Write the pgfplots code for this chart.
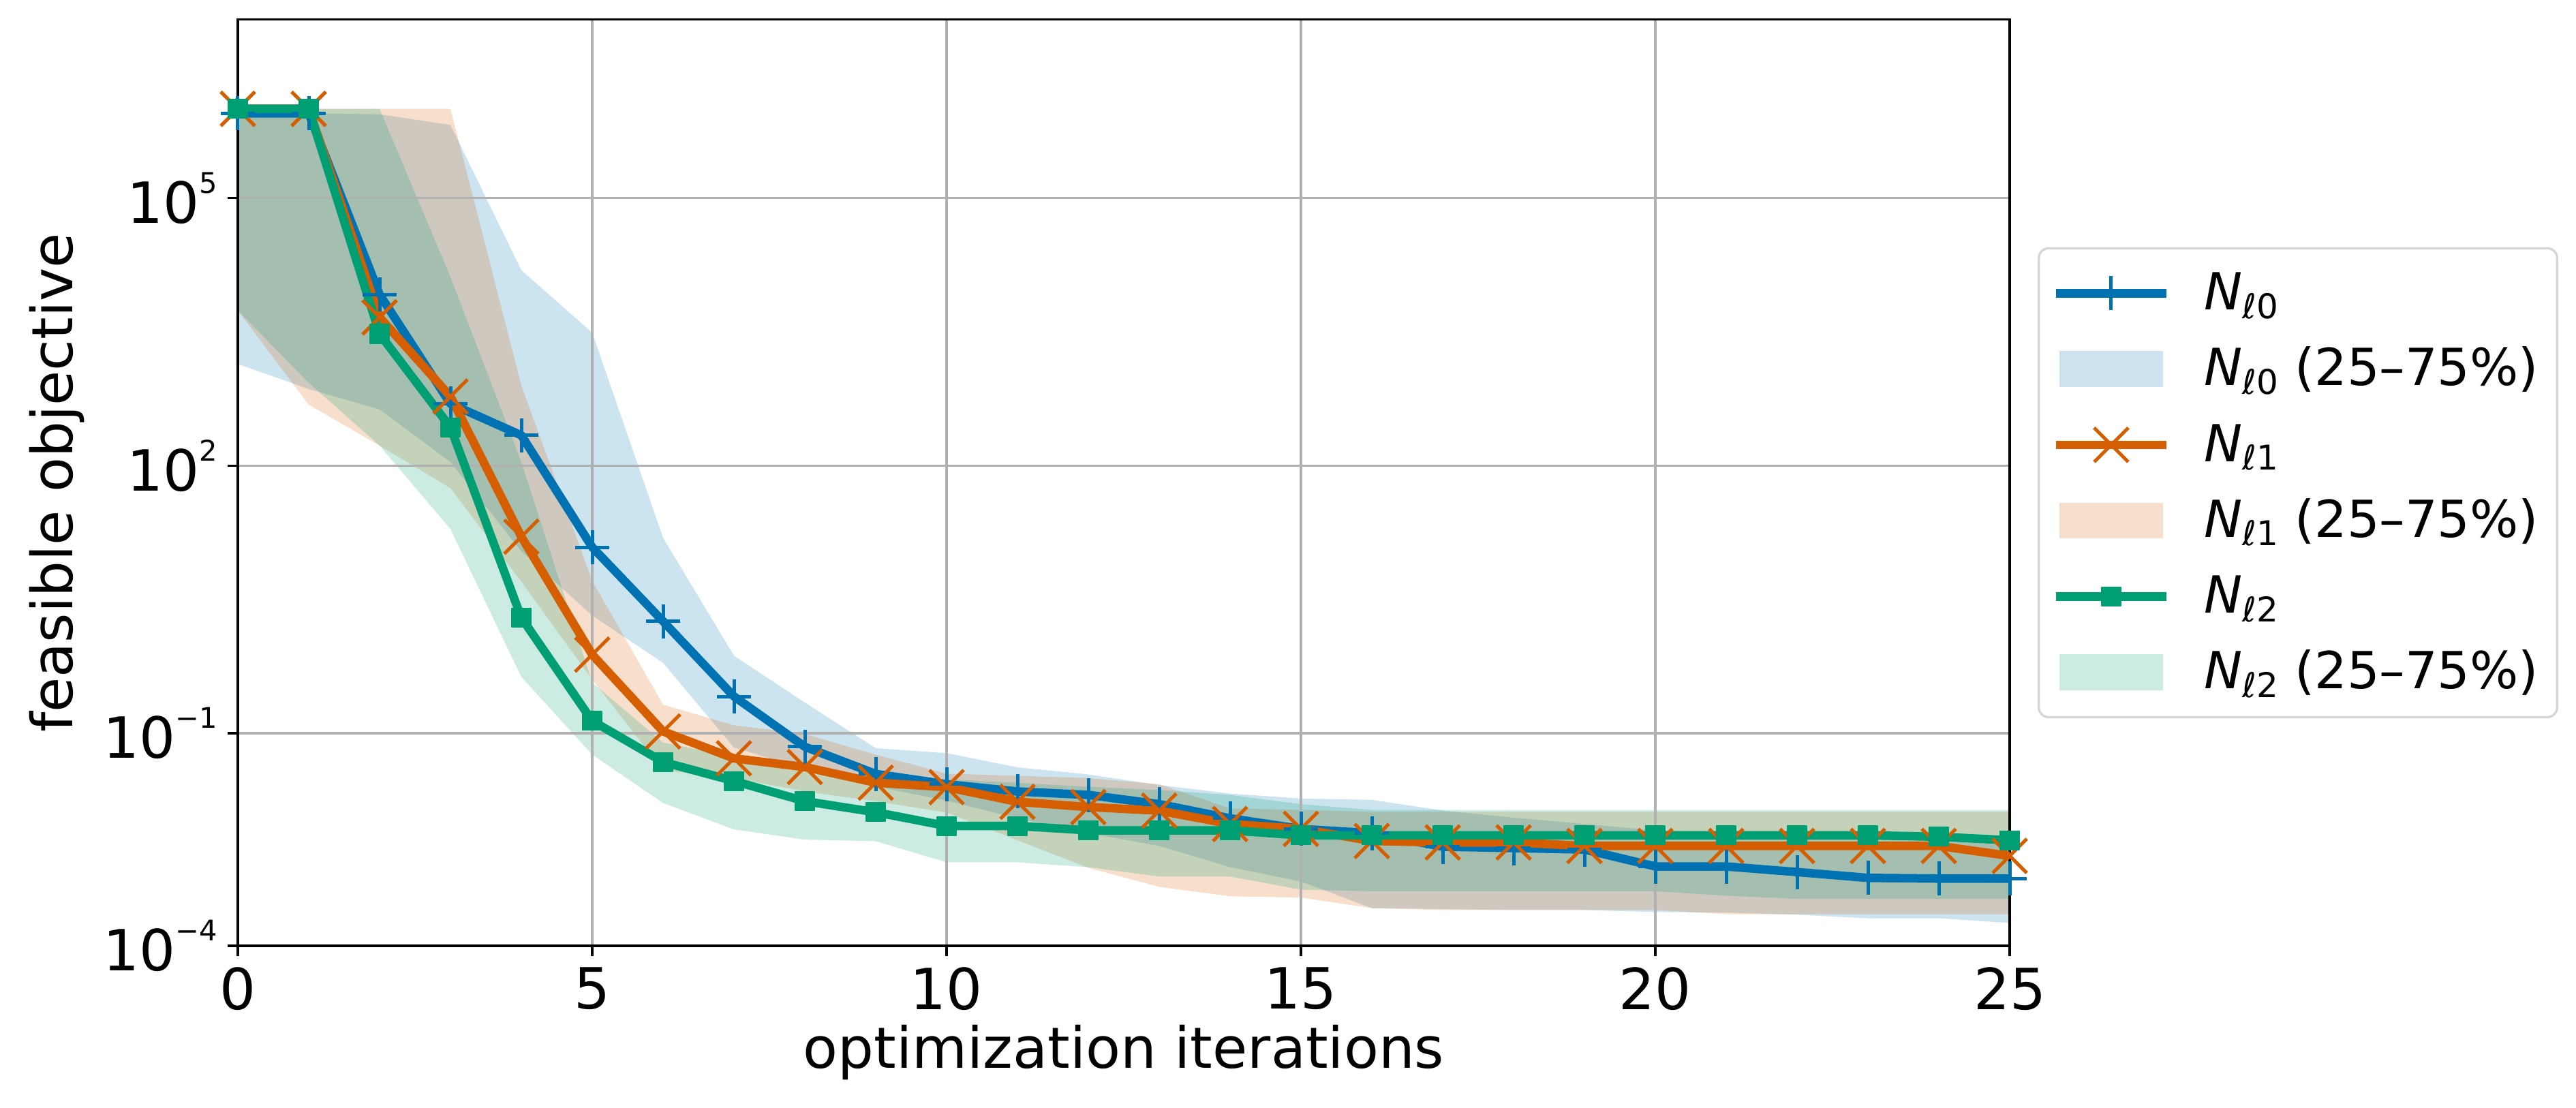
\documentclass[border=0pt]{standalone}
\usepackage{fontspec}
\setmainfont{DejaVu Sans}
\usepackage{pgfplots}
\pgfplotsset{compat=1.18}

\definecolor{c0}{HTML}{0072B2}
\definecolor{c1}{HTML}{D55E00}
\definecolor{c2}{HTML}{009E73}
\definecolor{gridgray}{RGB}{176,176,176}
\definecolor{legframe}{RGB}{214,214,214}

% y scale: log10 above 0.1, compressed log below (as in the figure)
\newcommand\symtrafo[1]{%
  \begingroup
  \pgfkeys{/pgf/fpu=true,/pgf/fpu/output format=fixed}%
  \pgfmathparse{ln(#1)*0.4342944819}%
  \pgfmathparse{(\pgfmathresult<-1) ? (-0.206+0.794*\pgfmathresult) : \pgfmathresult}%
  \xdef\symtrafores{\pgfmathresult}%
  \endgroup
  \let\pgfmathresult\symtrafores
}
\newcommand\tenpow[1]{10\raisebox{10.5pt}{\fontsize{10}{12}\selectfont #1}}
\newcommand\Nl[1]{\textit{N}\raisebox{-3pt}{\fontsize{12}{13}\selectfont\textit{ℓ}#1}}

\pgfplotsset{
  linelegend/.style={legend image code/.code={%
    \draw[mark repeat=2,mark phase=2,##1] plot coordinates {(0pt,0pt) (19.5pt,0pt) (39pt,0pt)};}},
  arealegend/.style={legend image code/.code={%
    \fill[sharp corners,##1] (1.3pt,-6.25pt) rectangle (37.7pt,6.25pt);}},
}

\begin{document}
\begin{tikzpicture}
\begin{axis}[
    at={(0,0)}, anchor=south west,
    scale only axis, width=624pt, height=326.2pt,
    set layers=standard,
    xmin=0, xmax=25, ymin=1e-4, ymax=1e7,
    y coord trafo/.code={\symtrafo{#1}},
    xtick={0,5,10,15,20,25},
    ytick={1e-4,1e-1,1e2,1e5},
    yticklabels={\tenpow{−4},\tenpow{−1},\tenpow{2},\tenpow{5}},
    scaled y ticks=false,
    /pgf/number format/assume math mode=true,
    tick label style={font=\fontsize{20}{24}\selectfont},
    yticklabel style={inner sep=3.5pt},
    xticklabel style={inner sep=4pt},
    label style={font=\fontsize{20}{24}\selectfont},
    xlabel={optimization iterations},
    ylabel={feasible objective},
    xlabel style={at={(axis description cs:0.5,-0.132)}, anchor=base},
    ylabel style={at={(axis description cs:-0.102,0.5)}, anchor=center, rotate=0},
    grid=major,
    major grid style={gridgray, line width=0.8pt},
    axis line style={black, line width=0.8pt},
    tick style={black, line width=0.8pt},
    tick align=outside, tick pos=left,
    major tick length=3.5pt,
    legend cell align=left,
    legend style={
      at={(1.0158,0.5)}, anchor=west,
      draw=legframe, line width=0.8pt, rounded corners=3.5pt,
      inner xsep=4.5pt, inner ysep=5.5pt, row sep=6pt,
      font=\fontsize{18}{21}\selectfont,
      nodes={inner sep=2pt, text height=14.2pt, text depth=2.5pt},
      /tikz/every odd column/.append style={column sep=9.8pt},
    },
  ]

  % N_l0
  \addplot[c0, line width=3pt, line join=round, mark=+, mark size=6pt,
    mark options={solid, line width=1.2pt}, linelegend]
    coordinates {(0,8.9e5) (1,8.9e5) (2,8.3e3) (3,495) (4,219) (5,12.2) (6,1.8)
      (7,0.259) (8,0.0646) (9,0.0267) (10,0.0191) (11,0.0151) (12,0.0135)
      (13,0.0100) (14,0.0063) (15,0.00447) (16,0.00389) (17,0.00251) (18,0.0024)
      (19,0.00229) (20,0.00132) (21,0.00132) (22,0.0011) (23,0.00091) (24,0.00089)
      (25,0.00089)};
  \addlegendentry{\Nl{0}}
  \addplot[on layer=axis background, draw=none, fill=c0, fill opacity=0.2, arealegend]
    coordinates {(0,8.9e5) (1,8.9e5) (2,8.7e5) (3,6.6e5) (4,1.55e4) (5,3.1e3) (6,15.5)
      (7,0.74) (8,0.221) (9,0.0617) (10,0.0525) (11,0.0331) (12,0.0263) (13,0.0186)
      (14,0.0141) (15,0.0120) (16,0.0115) (17,0.00813) (18,0.00646) (19,0.00525)
      (20,0.00427) (21,0.00398) (22,0.0038) (23,0.00372) (24,0.00363) (25,0.00355)
      (25,0.00021) (24,0.000245) (23,0.000245) (22,0.000275) (21,0.000295) (20,0.0003)
      (19,0.00032) (18,0.00032) (17,0.00033) (16,0.00034) (15,0.00081) (14,0.00129)
      (13,0.00257) (12,0.00389) (11,0.0063) (10,0.0112) (9,0.0178) (8,0.0316)
      (7,0.063) (6,0.617) (5,2.09) (4,11.0) (3,110) (2,427) (1,724) (0,1380)} -- cycle;
  \addlegendentry{\Nl{0} (25--75\%)}

  % N_l1
  \addplot[c1, line width=3pt, line join=round, mark=x, mark size=8.5pt,
    mark options={solid, line width=1.2pt}, linelegend]
    coordinates {(0,1e6) (1,1e6) (2,4.6e3) (3,596) (4,16.0) (5,0.762) (6,0.105)
      (7,0.0443) (8,0.0334) (9,0.0201) (10,0.0174) (11,0.0108) (12,0.0091)
      (13,0.0081) (14,0.00525) (15,0.00447) (16,0.00302) (17,0.00288) (18,0.00288)
      (19,0.00257) (20,0.00257) (21,0.00257) (22,0.00257) (23,0.00257) (24,0.00257)
      (25,0.00186)};
  \addlegendentry{\Nl{1}}
  \addplot[on layer=axis background, draw=none, fill=c1, fill opacity=0.2, arealegend]
    coordinates {(0,1e6) (1,1e6) (2,1e6) (3,1e6) (4,794) (5,5.1) (6,0.209) (7,0.123)
      (8,0.098) (9,0.050) (10,0.0269) (11,0.0251) (12,0.0234) (13,0.0191) (14,0.0087)
      (15,0.0083) (16,0.0078) (17,0.0078) (18,0.0078) (19,0.0078) (20,0.0078)
      (21,0.0078) (22,0.0078) (23,0.0078) (24,0.0078) (25,0.0078)
      (25,0.00028) (24,0.00028) (23,0.00028) (22,0.00028) (21,0.00028) (20,0.00032)
      (19,0.00032) (18,0.00032) (17,0.00032) (16,0.00034) (15,0.00048) (14,0.0005)
      (13,0.00068) (12,0.00126) (11,0.0031) (10,0.0076) (9,0.011) (8,0.0151)
      (7,0.0234) (6,0.030) (5,0.40) (4,5.0) (3,56) (2,168) (1,484) (0,5.5e3)} -- cycle;
  \addlegendentry{\Nl{1} (25--75\%)}

  % N_l2
  \addplot[c2, line width=3pt, line join=round, mark=square*, mark size=3.3pt,
    mark options={solid, draw=c2, fill=c2, line width=0.4pt}, linelegend]
    coordinates {(0,1e6) (1,1e6) (2,3.0e3) (3,269) (4,1.98) (5,0.138) (6,0.0394)
      (7,0.0212) (8,0.0110) (9,0.0077) (10,0.00492) (11,0.00492) (12,0.00427)
      (13,0.00427) (14,0.00427) (15,0.00363) (16,0.00363) (17,0.00363) (18,0.00363)
      (19,0.00363) (20,0.00363) (21,0.00363) (22,0.00363) (23,0.00363) (24,0.00347)
      (25,0.00309)};
  \addlegendentry{\Nl{2}}
  \addplot[on layer=axis background, draw=none, fill=c2, fill opacity=0.2, arealegend]
    coordinates {(0,1e6) (1,1e6) (2,1e6) (3,1.3e4) (4,110) (5,0.37) (6,0.074)
      (7,0.047) (8,0.030) (9,0.025) (10,0.0224) (11,0.020) (12,0.0176) (13,0.0158)
      (14,0.0135) (15,0.010) (16,0.0083) (17,0.0083) (18,0.0083) (19,0.0083)
      (20,0.0083) (21,0.0083) (22,0.0083) (23,0.0083) (24,0.0083) (25,0.0083)
      (25,0.00046) (24,0.00046) (23,0.00046) (22,0.00046) (21,0.00051) (20,0.00059)
      (19,0.00059) (18,0.00059) (17,0.00059) (16,0.00059) (15,0.00062) (14,0.00095)
      (13,0.00095) (12,0.00129) (11,0.00151) (10,0.00151) (9,0.0030) (8,0.00316)
      (7,0.0044) (6,0.0104) (5,0.050) (4,0.43) (3,19.5) (2,168) (1,850) (0,5.5e3)} -- cycle;
  \addlegendentry{\Nl{2} (25--75\%)}
\end{axis}
\pgfresetboundingbox
\path[use as bounding box] (-83.76pt,-57.12pt) rectangle (823.44pt,333.12pt);
\end{tikzpicture}
\end{document}
